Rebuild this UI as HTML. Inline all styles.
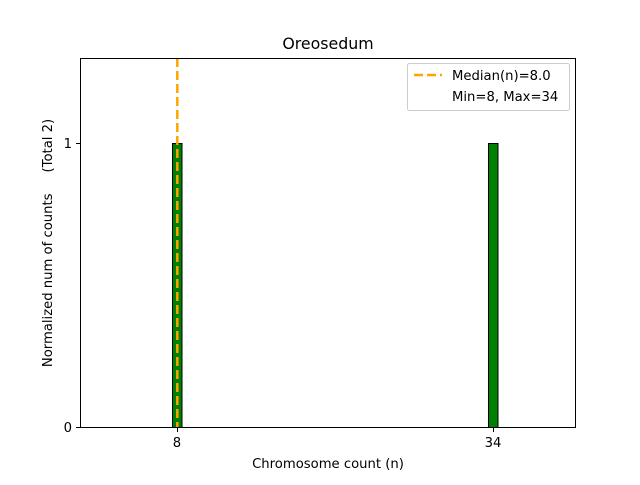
<!DOCTYPE html>
<html><head><style>body{margin:0;background:#fff}</style></head><body>
<svg width="640" height="480" xmlns="http://www.w3.org/2000/svg" font-family="DejaVu Sans, Liberation Sans, sans-serif">
<rect width="640" height="480" fill="#fff"/>
<rect x="172.5" y="143.5" width="9.5" height="284" fill="green" stroke="#000" stroke-width="1"/>
<rect x="488.5" y="143.5" width="9.5" height="284" fill="green" stroke="#000" stroke-width="1"/>
<line x1="177.3" y1="58" x2="177.3" y2="427" stroke="orange" stroke-width="2.5" stroke-dasharray="9,4"/>
<rect x="80.5" y="58.5" width="495" height="369" fill="none" stroke="#000" stroke-width="1"/>
<g stroke="#000"><line x1="76" y1="427.5" x2="80" y2="427.5"/><line x1="76" y1="143.5" x2="80" y2="143.5"/>
<line x1="177.5" y1="428" x2="177.5" y2="432"/><line x1="493.5" y1="428" x2="493.5" y2="432"/></g>
<g font-size="13.2" fill="#000">
<text x="72" y="432" text-anchor="end">0</text><text x="72" y="148" text-anchor="end">1</text>
<text x="177" y="447" text-anchor="middle">8</text><text x="493" y="447" text-anchor="middle">34</text>
<text x="328" y="468" text-anchor="middle">Chromosome count (n)</text>
<text transform="translate(52,243) rotate(-90)" text-anchor="middle" xml:space="preserve">Normalized num of counts     (Total 2)</text>
</g>
<text x="328" y="49" text-anchor="middle" font-size="15.8">Oreosedum</text>
<rect x="407.5" y="63.5" width="162" height="47" rx="2" fill="#fff" stroke="#ccc"/>
<line x1="414" y1="75" x2="442" y2="75" stroke="orange" stroke-width="2.5" stroke-dasharray="9,4"/>
<text x="452" y="80" font-size="13.2">Median(n)=8.0</text>
<text x="452" y="101" font-size="13.2">Min=8, Max=34</text>
</svg>
</body></html>
